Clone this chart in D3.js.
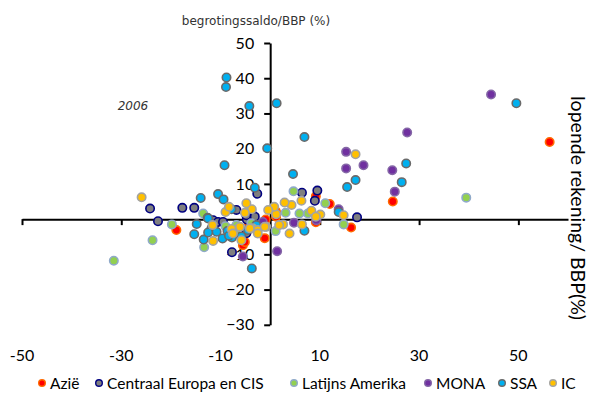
<!DOCTYPE html>
<html>
<head>
<meta charset="utf-8">
<script src="https://cdn.jsdelivr.net/npm/d3@7"></script>
<style>
  html, body { margin: 0; padding: 0; background: #fff; }
  svg { display: block; }
</style>
</head>
<body>
<svg id="chart" width="590" height="396"></svg>
<script>
// Begrotingssaldo (x) versus lopende rekening (y), % BBP, 2006
const seriesNames = ["Azië", "Centraal Europa en CIS", "Latijns Amerika", "MONA", "SSA", "IC"];

const azie = [[56.3,21.9],[24.7,5.0],[9.2,6.5],[12.0,4.3],[16.3,-2.4],[9.2,-0.9],[1.1,2.3],[-0.9,-0.1],
  [1.2,1.8],[1.2,0.7],[-1.1,-5.4],[-5.5,-7.4],[-5.1,-6.5],[-4.3,-1.2],[-18.9,-3.1],[-4.8,-3.6]];

const cee = [[6.4,7.5],[9.5,8.1],[9.0,5.2],[17.5,0.5],[-2.6,7.2],[-24.2,3.0],[-22.6,-0.6],[-17.7,3.2],
  [-15.3,3.2],[-6.8,2.6],[-11.5,-0.3],[-10.5,-0.8],[-9.5,-0.8],[-7.7,-9.4],[-3.8,2.1],[-4.7,-0.1],
  [-4.8,1.1],[-3.1,0.7],[-4.8,-4.0],[-2.0,-1.5]];

const latijns = [[39.5,6.1],[4.7,7.9],[11.1,4.5],[14.8,-1.5],[7.6,1.6],[5.9,1.6],[3.1,1.8],[1.1,-3.4],
  [-19.8,-1.5],[-23.7,-6.0],[-31.5,-11.8],[-13.5,1.6],[-13.3,-8.0],[-6.8,-1.7],[-6.9,-4.1],[-3.8,-1.2],
  [-9.0,-2.0]];

const mona = [[44.5,35.4],[27.6,24.6],[15.3,19.1],[18.8,15.3],[15.3,14.4],[24.6,13.9],[25.1,7.8],
  [13.8,2.8],[4.8,-1.0],[1.4,-9.1],[-5.5,-10.6],[9.3,-0.3],[-1.5,-0.8]];

const ssa = [[-8.8,40.2],[-8.9,37.5],[-4.2,32.1],[1.3,32.9],[-0.6,20.1],[6.9,23.3],[49.6,32.9],[27.4,15.8],
  [17.2,11.1],[15.5,9.1],[26.5,10.5],[4.6,12.8],[13.8,2.0],[6.9,-3.3],[-9.2,15.3],[-3.1,8.9],
  [-14.0,6.0],[-10.5,7.1],[-9.4,5.6],[-14.8,-1.4],[-15.3,-4.3],[-13.4,-5.8],[-12.6,0.4],[-11.8,-2.5],
  [-10.8,-3.6],[-9.6,-5.5],[-8.6,-3.4],[-7.7,-5.2],[-5.8,-4.9],[-3.7,-14.0],[-4.5,-3.1],[-2.8,-1.7],
  [-12.5,-3.8],[-8.3,-4.7],[-7.8,2.8],[-12.5,0.2]];

const ic = [[-25.9,6.2],[17.2,18.4],[14.8,1.1],[8.3,2.4],[6.3,5.2],[10.1,1.3],[9.2,0.7],[6.4,-1.5],
  [3.9,-4.1],[4.3,4.0],[2.9,4.7],[1.2,1.4],[2.6,-1.5],[-0.8,-2.2],[-3.5,-2.6],[-3.7,2.8],[-5.1,1.8],
  [-6.1,-2.2],[-9.0,2.0],[-8.3,3.5],[-11.5,-6.2],[-5.8,-6.0],[-7.8,-2.8],[-2.5,-3.1],[-4.8,4.5],
  [-11.6,-1.7],[-7.5,-4.1],[0.8,3.5],[1.8,-1.7],[-4.1,-2.6],[-2.5,-4.1],[-0.4,2.6],[-1.1,-2.2]];

const seriesData = [azie, cee, latijns, mona, ssa, ic];

const xTicks = [-50, -30, -10, 10, 30, 50];
const yTicks = [-30, -20, -10, 0, 10, 20, 30, 40, 50];

const fills   = ["#ff0000", "#7f7f7f", "#92d050", "#7030a0", "#00b0f0", "#ffc000"];
const strokes = ["#ff6a00", "#000080", "#8fa9c9", "#8466a6", "#6a6a6a", "#a3a3a3"];

const svg = d3.select("#chart");
const x = d3.scaleLinear().domain([-50, 60]).range([22, 568]);
const y = d3.scaleLinear().domain([-30, 50]).range([324.8, 43]);

const numFont = "Lato, 'Open Sans', sans-serif";

// horizontal axis through y = 0, ticks pointing down, labels placed at the bottom
const xAxis = svg.append("g").attr("transform", `translate(0,${y(0)})`)
  .call(d3.axisBottom(x).tickValues(xTicks).tickSize(6).tickSizeOuter(0).tickFormat(""));
xAxis.select(".domain").attr("stroke", "#000").attr("stroke-width", 2);
xAxis.selectAll(".tick line").attr("stroke", "#000").attr("stroke-width", 2);

svg.append("g").selectAll("text").data(xTicks).join("text")
  .attr("x", d => x(d)).attr("y", 361)
  .attr("text-anchor", "middle")
  .style("font-family", numFont).style("font-size", "16px").attr("fill", "#000")
  .text(d => d);

// vertical axis through x = 0
const yAxis = svg.append("g").attr("transform", `translate(${x(0)},0)`)
  .call(d3.axisLeft(y).tickValues(yTicks).tickSize(6).tickSizeOuter(0).tickPadding(10));
yAxis.select(".domain").attr("stroke", "#000").attr("stroke-width", 2);
yAxis.selectAll(".tick line").attr("stroke", "#000").attr("stroke-width", 2);
yAxis.selectAll(".tick text").style("font-family", numFont).style("font-size", "16px").attr("fill", "#000");

// points, one layer per region
seriesData.forEach((pts, i) => {
  svg.append("g").selectAll("circle").data(pts).join("circle")
    .attr("cx", d => x(d[0])).attr("cy", d => y(d[1]))
    .attr("r", 4.2)
    .attr("fill", fills[i]).attr("stroke", strokes[i]).attr("stroke-width", 1.6);
});

// titles
svg.append("text").attr("x", 256).attr("y", 25).attr("text-anchor", "middle")
  .style("font-family", "'DejaVu Sans', Verdana, sans-serif").style("font-size", "12px")
  .attr("fill", "#333").text("begrotingssaldo/BBP (%)");

svg.append("text").attr("x", 133).attr("y", 110).attr("text-anchor", "middle")
  .style("font-family", "'DejaVu Sans', Verdana, sans-serif").style("font-size", "12px")
  .style("font-style", "italic").attr("fill", "#333").text("2006");

svg.append("text").attr("transform", "translate(571,208) rotate(90)").attr("text-anchor", "middle")
  .style("font-family", numFont).style("font-size", "19.5px").attr("fill", "#000")
  .text("lopende rekening/ BBP(%)");

// legend
const legendX = [42, 99, 294, 428, 502, 553];
const legend = svg.append("g");
seriesNames.forEach((name, i) => {
  legend.append("circle").attr("cx", legendX[i]).attr("cy", 383).attr("r", 3.3)
    .attr("fill", fills[i]).attr("stroke", strokes[i]).attr("stroke-width", 1.4);
  legend.append("text").attr("x", legendX[i] + 8).attr("y", 388.5)
    .style("font-family", numFont).style("font-size", "15.5px").attr("fill", "#000").text(name);
});
</script>
</body>
</html>
